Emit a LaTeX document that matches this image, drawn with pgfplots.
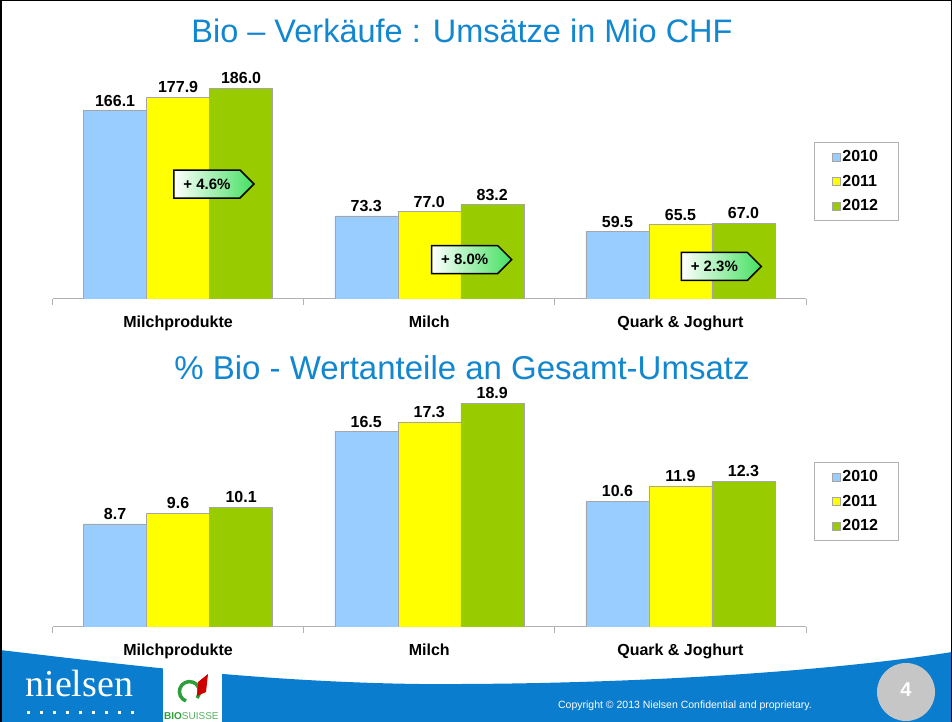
\documentclass[border=0pt]{standalone}
\usepackage{fontspec}
\setmainfont{Liberation Sans}
\newfontfamily\seriffont{Liberation Serif}
\usepackage{pgfplots}
\pgfplotsset{compat=1.18}
\usetikzlibrary{shapes.symbols}
\definecolor{c2010}{HTML}{99CCFF}
\definecolor{c2011}{HTML}{FFFF00}
\definecolor{c2012}{HTML}{99CC00}
\definecolor{titleblue}{HTML}{1287CF}
\definecolor{footblue}{HTML}{0B7DCF}
\definecolor{arrowgreen}{HTML}{44E060}
\definecolor{biogreen}{HTML}{2E9E3A}

\newcommand{\lbl}{\bfseries\fontsize{16}{18}\selectfont}

\tikzset{
  growth/.style={signal, signal to=east, draw=black, line width=1.5pt,
    left color=white, right color=arrowgreen, minimum width=80pt,
    minimum height=28pt, inner sep=2pt,
    font=\bfseries\fontsize{15}{17}\selectfont}
}

\pgfplotsset{
  bioaxis/.style={
    scale only axis,
    width=753.5pt,
    xmin=-0.5, xmax=2.5, ymin=0,
    axis x line*=bottom,
    axis y line=none,
    axis line style={draw=gray!60, line width=1pt},
    xtick={0,1,2},
    xticklabels={Milchprodukte,Milch,Quark \& Joghurt},
    major tick length=0pt,
    xticklabel style={font=\lbl, yshift=-13pt},
    extra x ticks={-0.5,0.5,1.5,2.5},
    extra x tick labels={},
    extra x tick style={major tick length=6pt, tick align=outside, tick style={draw=gray!60, line width=0.8pt}},
    ybar=0pt, bar width=63pt,
    /pgf/number format/assume math mode=true,
    nodes near coords={\pgfmathprintnumber[fixed,fixed zerofill,precision=1]{\pgfplotspointmeta}},
    nodes near coords style={font=\lbl, anchor=south, inner sep=4pt},
    every axis plot/.append style={draw=gray!70, line width=0.5pt},
    legend cell align=left,
    legend image code/.code={\draw[#1,draw=gray!70,line width=0.5pt] (-4pt,-4pt) rectangle (4pt,4pt);},
    legend style={anchor=north west, draw=gray!60, line width=0.8pt,
      font=\lbl, row sep=8pt, inner xsep=18pt, inner ysep=6pt},
  },
}

\begin{document}
\begin{tikzpicture}[x=1pt,y=1pt]
\useasboundingbox (0,0) rectangle (952,722);
\fill[white] (0,0) rectangle (952,722);

% footer
\fill[footblue] (0,72) .. controls (120,58) and (260,40) .. (420,38)
  .. controls (640,37) and (840,52) .. (952,70) -- (952,0) -- (0,0) -- cycle;
\fill[white] (163,0) rectangle (222,55);
\node[font=\seriffont\fontsize{38}{40}\selectfont, text=white, anchor=base west] at (22,25) {nielsen};
\foreach \i in {0,...,8} \fill[white] (27+13*\i,7.5) rectangle ++(3,3);
\draw[biogreen, line width=3.5pt] (186,21) arc (250:-40:10);
\fill[red!80!black] (198,40) -- (208,48) -- (206,30) -- (197,26) -- cycle;
\node[anchor=base west, inner sep=0pt, font=\fontsize{10}{11}\selectfont] at (164,2)
  {\textcolor{biogreen}{\bfseries BIO}\textcolor{biogreen!80}{SUISSE}};
\fill[gray!45] (906,30) circle (29);
\node[text=white, font=\bfseries\fontsize{20}{22}\selectfont] at (906,32) {4};
\node[text=white, font=\fontsize{10.5}{12}\selectfont] at (685,16)
  {Copyright © 2013 Nielsen Confidential and proprietary.};

% titles
\node[text=titleblue, font=\fontsize{32.5}{36}\selectfont] at (462,691)
  {Bio – Verkäufe : Umsätze in Mio CHF};
\node[text=titleblue, font=\fontsize{33}{36}\selectfont] at (462,354)
  {\% Bio - Wertanteile an Gesamt-Umsatz};

% top chart
\begin{axis}[bioaxis, at={(52.5pt,423pt)}, anchor=south west,
  height=226.8pt, ymax=200, legend style={at={(1.010,0.692)}}]
\addplot[fill=c2010] coordinates {(0,166.1) (1,73.3) (2,59.5)};
\addplot[fill=c2011] coordinates {(0,177.9) (1,77.0) (2,65.5)};
\addplot[fill=c2012] coordinates {(0,186.0) (1,83.2) (2,67.0)};
\legend{2010,2011,2012}
\node[growth] at (axis cs:0.115,101.4) {+ 4.6\%};
\node[growth] at (axis cs:1.141,34.8) {+ 8.0\%};
\node[growth] at (axis cs:2.135,28.7) {+ 2.3\%};
\end{axis}

% bottom chart
\begin{axis}[bioaxis, at={(52.5pt,95pt)}, anchor=south west,
  height=237pt, ymax=20, legend style={at={(1.010,0.696)}}]
\addplot[fill=c2010] coordinates {(0,8.7) (1,16.5) (2,10.6)};
\addplot[fill=c2011] coordinates {(0,9.6) (1,17.3) (2,11.9)};
\addplot[fill=c2012] coordinates {(0,10.1) (1,18.9) (2,12.3)};
\legend{2010,2011,2012}
\end{axis}

\draw[black, line width=3pt] (0,0) -- (0,722) -- (952,722) -- (952,0);
\end{tikzpicture}
\end{document}
